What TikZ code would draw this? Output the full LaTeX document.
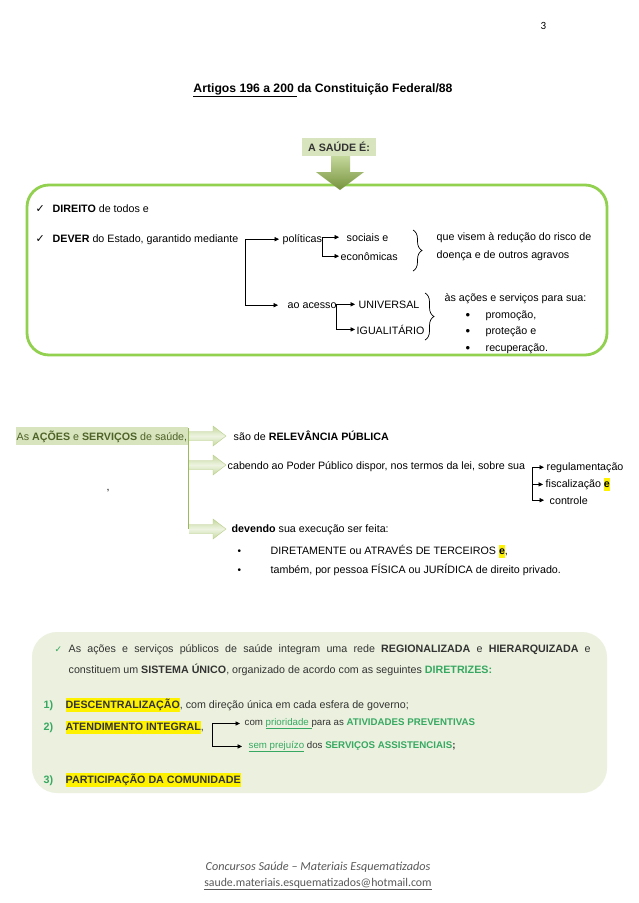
\documentclass[tikz,border=0pt]{standalone}
\usepackage{fontspec}
\setmainfont{Liberation Sans}
\newfontfamily\calib{Carlito}
\newfontfamily\dejavu{DejaVu Sans}
\usetikzlibrary{arrows.meta,decorations.pathreplacing,calc}
\definecolor{boxgreen}{HTML}{92D050}
\definecolor{hlgreen}{HTML}{D7E4BD}
\definecolor{txtgreen}{HTML}{37A862}
\definecolor{olivetxt}{HTML}{4F6228}
\definecolor{panel}{HTML}{EBF1DE}
\definecolor{darktxt}{HTML}{333333}
\definecolor{foot}{HTML}{595959}
\definecolor{vline}{HTML}{9BBB59}
\definecolor{arlight}{HTML}{EEF4E2}
\definecolor{armid}{HTML}{C4D79B}
\definecolor{ardark}{HTML}{76933C}
\newcommand\hly[1]{{\setlength{\fboxsep}{0pt}\colorbox{yellow}{\strut#1}}}
\begin{document}
\begin{tikzpicture}[x=1pt,y=-1pt,
  txt/.style={font=\fontsize{10.7}{13}\selectfont, inner sep=0.5pt, anchor=base west},
  smalltxt/.style={font=\fontsize{9.7}{12}\selectfont, inner sep=0.5pt, anchor=base west},
  arr/.style={-{Triangle[length=4.5pt,width=4.2pt]}, line width=0.7pt, shorten >=2pt},
  brc/.style={decorate, decoration={brace, amplitude=9pt}, line width=0.7pt},
  blockarr/.style={top color=armid, bottom color=armid, middle color=arlight}]
\useasboundingbox (0,0) rectangle (638,903);
\fill[white] (0,0) rectangle (638,903);

% page number and title
\node[txt, font=\calib\fontsize{11}{13}\selectfont] (pg) at (540,29) {3};
\node[txt, anchor=base, font=\bfseries\fontsize{12.2}{14}\selectfont] (title) at (323,92) {\underline{Artigos 196 a 200\ }da Constituição Federal/88};

% A SAUDE E
\node[fill=hlgreen, minimum width=74pt, minimum height=18pt, inner sep=0pt, font=\bfseries\fontsize{10.7}{13}\selectfont, text=darktxt] (saude) at (339,147) {A SAÚDE É:};

% green box
\draw[boxgreen, line width=2.8pt, rounded corners=22pt] (27,185) rectangle (607,355);
\shade[top color=armid, bottom color=ardark] (331,156) -- (350,156) -- (350,172) -- (364,172) -- (340,190) -- (316,172) -- (331,172) -- cycle;

\node[txt, font=\dejavu\fontsize{11}{12}\selectfont] (ck1) at (35,212) {✓};
\node[txt, font=\dejavu\fontsize{11}{12}\selectfont] (ck2) at (35,242) {✓};
\node[txt] (direito) at (52,212) {\textbf{DIREITO} de todos e};
\node[txt] (dever) at (52,242) {\textbf{DEVER} do Estado, garantido mediante};
\node[txt] (pol) at (282,242) {políticas};
\node[txt] (aces) at (287,308) {ao acesso};
\coordinate (cx1) at (245,0);
\coordinate (b1) at (cx1 |- pol.west);
\draw[arr, shorten >=3pt] (b1) -- (pol.west);
\draw[arr, shorten >=9pt] (b1) |- (aces.west);

\node[txt] (soc) at (346,241) {sociais e};
\node[txt] (eco) at (340,260) {econômicas};
\coordinate (cx2) at (322,0);
\coordinate (b2) at (cx2 |- soc.west);
\draw[arr, shorten >=7pt] (b2) -- (soc.west);
\draw[arr, shorten >=1pt] (b2) |- (eco.west);
\draw[brc] (413,230) -- (413,271);
\node[txt] (risco) at (436,240) {que visem à redução do risco de};
\node[txt] (agrav) at (436,258) {doença e de outros agravos};

\node[txt] (univ) at (358,308) {UNIVERSAL};
\node[txt] (igual) at (356,334) {IGUALITÁRIO};
\coordinate (cx3) at (336,0);
\coordinate (b3) at (cx3 |- univ.west);
\draw[arr, shorten >=3pt] (b3) -- (univ.west);
\draw[arr, shorten >=1pt] (b3) |- (igual.west);
\draw[brc] (425,293) -- (425,340);
\node[txt] (acs) at (444,301) {às ações e serviços para sua:};
\node[txt, font=\fontsize{13}{13}\selectfont] (bu1) at (465,319) {•};
\node[txt, font=\fontsize{13}{13}\selectfont] (bu2) at (465,335) {•};
\node[txt, font=\fontsize{13}{13}\selectfont] (bu3) at (465,352) {•};
\node[txt] (prom) at (485,318) {promoção,};
\node[txt] (prot) at (485,334) {proteção e};
\node[txt] (recu) at (485,351) {recuperação.};

% middle section
\node[txt, fill=hlgreen, text=olivetxt, inner xsep=0.5pt, inner ysep=3pt] (acoes) at (16,440) {As \textbf{AÇÕES} e \textbf{SERVIÇOS} de saúde,};
\draw[vline, line width=1pt] (188,428) -- (188,529);
\foreach \yy in {436,465,529} {
  \shade[blockarr] (189,{\yy-4.5}) -- (213,{\yy-4.5}) -- (213,{\yy-10}) -- (226,\yy) -- (213,{\yy+10}) -- (213,{\yy+4.5}) -- (189,{\yy+4.5}) -- cycle;
  \draw[vline!70, line width=0.4pt] (189,{\yy-4.5}) -- (213,{\yy-4.5}) -- (213,{\yy-10}) -- (226,\yy) -- (213,{\yy+10}) -- (213,{\yy+4.5}) -- (189,{\yy+4.5});
}
\node[txt] (rel) at (233,440) {são de \textbf{RELEVÂNCIA PÚBLICA}};
\node[txt] (cab) at (227,469) {cabendo ao Poder Público dispor, nos termos da lei, sobre sua};
\node[txt] (reg) at (546,470) {regulamentação};
\node[txt] (fisc) at (545,487) {fiscalização \hly{\textbf{e}}};
\node[txt] (ctrl) at (549,504) {controle};
\coordinate (cx4) at (532,0);
\coordinate (b4) at (cx4 |- reg.west);
\draw[arr] (b4) -- (reg.west);
\draw[arr] (b4) |- (fisc.west);
\draw[arr, shorten >=5pt] (b4) |- (ctrl.west);
\node[txt] (comma) at (106,490) {,};
\node[txt] (dev) at (231,532) {\textbf{devendo} sua execução ser feita:};
\node[txt, font=\fontsize{10}{13}\selectfont] (db1) at (237,554) {•};
\node[txt, font=\fontsize{10}{13}\selectfont] (db2) at (237,573) {•};
\node[txt] (d1) at (270,554) {DIRETAMENTE ou ATRAVÉS DE TERCEIROS \hly{\textbf{e}},};
\node[txt] (d2) at (270,573) {também, por pessoa FÍSICA ou JURÍDICA de direito privado.};

% bottom panel
\fill[panel, rounded corners=25pt] (32,632) rectangle (607,793);
\node[txt, text=txtgreen, font=\dejavu\fontsize{9}{11}\selectfont] (ck3) at (54,652) {✓};
\node[txt, text=darktxt] (p1) at (68,652) {\makebox[522pt][s]{As ações e serviços públicos de saúde integram uma rede \textbf{REGIONALIZADA} e \textbf{HIERARQUIZADA} e}};
\node[txt, text=darktxt] (p2) at (68,673) {constituem um \textbf{SISTEMA ÚNICO}, organizado de acordo com as seguintes \textcolor{txtgreen}{\textbf{DIRETRIZES:}}};
\node[txt, text=txtgreen, font=\bfseries\fontsize{10.7}{13}\selectfont] (n1) at (43,708) {1)};
\node[txt, text=darktxt] (i1) at (65,708) {\hly{\textbf{DESCENTRALIZAÇÃO}}, com direção única em cada esfera de governo;};
\node[txt, text=txtgreen, font=\bfseries\fontsize{10.7}{13}\selectfont] (n2) at (43,730) {2)};
\node[txt, text=darktxt] (i2) at (65,730) {\hly{\textbf{ATENDIMENTO INTEGRAL}},};
\node[smalltxt, text=darktxt] (com) at (244,725) {com \textcolor{txtgreen}{\underline{prioridade\ }}para as \textcolor{txtgreen}{\textbf{ATIVIDADES PREVENTIVAS}}};
\node[smalltxt, text=darktxt] (sem) at (248,748) {\textcolor{txtgreen}{\underline{sem prejuízo}} dos \textcolor{txtgreen}{\textbf{SERVIÇOS ASSISTENCIAIS}}\textbf{;}};
\coordinate (cx5) at (212,0);
\coordinate (b5) at (cx5 |- com.west);
\draw[arr, shorten >=4pt] (b5) -- (com.west);
\draw[arr, shorten >=6pt] (b5) |- (sem.west);
\node[txt, text=txtgreen, font=\bfseries\fontsize{10.7}{13}\selectfont] (n3) at (43,783) {3)};
\node[txt, text=darktxt] (i3) at (65,783) {\hly{\textbf{PARTICIPAÇÃO DA COMUNIDADE}}};

% footer
\node[anchor=base, inner sep=0pt, text=foot, font=\calib\itshape\fontsize{12.2}{13}\selectfont] (f1) at (318,870) {Concursos Saúde – Materiais Esquematizados};
\node[anchor=base, inner sep=0pt, text=foot, font=\calib\fontsize{11.8}{13}\selectfont] (f2) at (318,886) {\underline{saude.materiais.esquematizados@hotmail.com}};
\end{tikzpicture}
\end{document}
